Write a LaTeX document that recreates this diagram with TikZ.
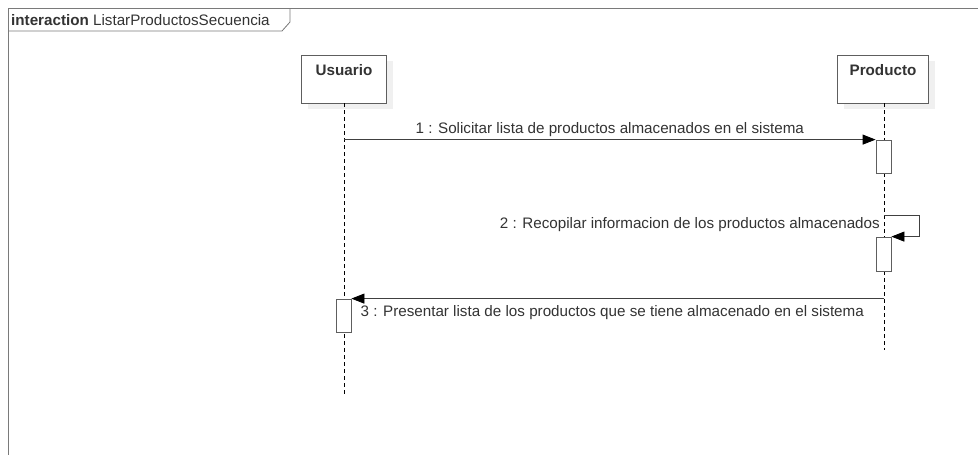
\documentclass[tikz,border=0pt]{standalone}
\usepackage{fontspec}
\setmainfont{Liberation Sans}
\usetikzlibrary{arrows.meta,positioning,shadows}

\definecolor{framegray}{HTML}{7A7A7A}
\definecolor{boxgray}{HTML}{5E5E5E}
\definecolor{textgray}{HTML}{333333}
\colorlet{umlarrow}{black!75}

\tikzset{
  lifebox/.style={draw=boxgray, fill=white, thick, minimum width=85pt, minimum height=48pt,
    inner sep=0pt, drop shadow={shadow xshift=6pt, shadow yshift=-6pt, fill=gray!12, opacity=1}},
  lifename/.style={text=textgray, inner sep=0pt},
  lifeline/.style={draw=black, dashed, dash pattern=on 4pt off 3pt},
  actbox/.style={draw=boxgray, fill=white, thick, minimum width=15pt, inner sep=0pt},
  msg/.style={draw=umlarrow, thick, -{Triangle[length=13pt,width=10pt,color=black]}},
  msglabel/.style={text=textgray, inner sep=1pt}
}

\begin{document}
\begin{tikzpicture}[x=1pt,y=-1pt,font=\fontsize{15.2}{18}\selectfont]
\useasboundingbox (0,0) rectangle (978,455);

% frame and its tab
\draw[framegray, thick] (8,470) -- (8,8) -- (990,8);
\draw[framegray, thick] (8,31) -- (282,31) -- (290,22) -- (290,8);
\node[anchor=west, text=textgray, inner sep=0pt] (title) at (11,20)
  {\textbf{interaction} ListarProductosSecuencia};

% lifelines
\node[lifebox] (usuario) at (344,79) {};
\node[lifename, below=10pt of usuario.north] {\textbf{Usuario}};
\node[lifebox, minimum width=91pt] (producto) at (883,79) {};
\node[lifename, below=10pt of producto.north] {\textbf{Producto}};

\coordinate (uend) at (344,395);
\coordinate (pend) at (884,350);
\draw[lifeline] (usuario.south) -- (uend);
\draw[lifeline] (producto.south -| pend) -- (pend);

% activations
\node[actbox, minimum height=33pt] (act1) at (883.5,156.5) {};
\node[actbox, minimum height=34pt] (act2) at (883.5,254) {};
\node[actbox, minimum height=33pt] (act3) at (343.5,315.5) {};

% messages
\draw[msg] (uend |- act1.north) -- (act1.north west)
  node[midway, above=2pt, msglabel] {1 : Solicitar lista de productos almacenados en el sistema};

\coordinate (self) at (884,215);
\draw[msg] (self) -- ++(35,0) |- (act2.north east);
\path (self) ++(-3,10) node[left, msglabel] {2 : Recopilar informacion de los productos almacenados};

\draw[msg] (pend |- act3.north) -- (act3.north east);
\path (act3.north east) ++(8,6) node[anchor=north west, msglabel]
  {3 : Presentar lista de los productos que se tiene almacenado en el sistema};
\end{tikzpicture}
\end{document}
